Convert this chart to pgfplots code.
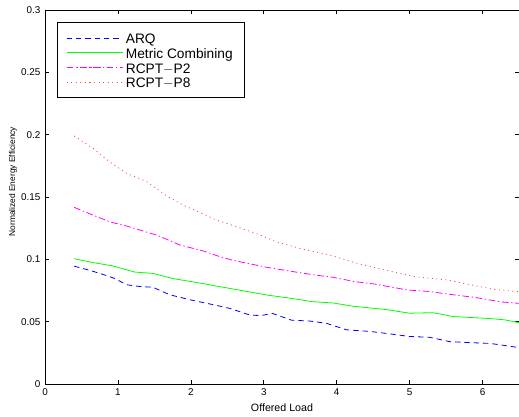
\documentclass[border=0pt]{standalone}
\usepackage{pgfplots}
\pgfplotsset{compat=1.18}
\usepackage{fontspec}
\setmainfont{Liberation Sans}
\definecolor{mlblue}{rgb}{0,0,1}
\definecolor{mlgreen}{rgb}{0,1,0}
\definecolor{mlpink}{rgb}{1,0,1}
\definecolor{mlred}{rgb}{1,0.3,0.3}
% legend sample: coloured line plus blank room before the text
\newcommand{\legline}[2]{\draw[#2, line width=0.6pt, draw=#1] (0pt,0pt) -- (28pt,0pt);
  \path (0pt,0pt) -- (42pt,0pt);}

\begin{document}
\begin{tikzpicture}
\begin{axis}[
  scale only axis,
  width=355.5pt, height=280.5pt,
  xmin=0, xmax=6.5, ymin=0, ymax=0.3,
  xtick={0,1,...,6},
  ytick={0,0.05,...,0.3},
  tick align=inside,
  major tick length=3.3pt,
  axis line style={line width=0.7pt},
  every tick/.style={black, line width=0.5pt},
  tick label style={font=\fontsize{7.4}{8}\selectfont},
  /pgf/number format/.cd, fixed, precision=2, assume math mode=true,
  /pgfplots/.cd,
  xlabel={Offered Load},
  ylabel={Normalized Energy Efficiency},
  xlabel style={font=\fontsize{8}{9}\selectfont,
    at={(axis description cs:0.5,-0.064)}, anchor=center},
  ylabel style={font=\fontsize{6.3}{7}\selectfont,
    at={(axis description cs:-0.0675,0.541)}, anchor=center},
  legend style={at={(axis description cs:0.0246,0.967)}, anchor=north west,
    draw=black, line width=0.6pt, font=\fontsize{10.3}{11}\selectfont,
    row sep=0pt, inner xsep=7pt, inner ysep=6pt,
    nodes={inner ysep=0pt, text height=9.7pt, text depth=1.3pt}},
  legend cell align=left,
]
\addplot[color=mlblue, line width=0.6pt, dash pattern=on 4pt off 3pt,
  legend image code/.code={\legline{mlblue}{dash pattern=on 4pt off 3pt}}] coordinates {
(0.4,0.0945)(0.6,0.0914)(0.8,0.0878)(0.95,0.0848)(1.12,0.0796)(1.3,0.0782)
(1.48,0.0776)(1.71,0.0716)(2.0,0.0674)(2.26,0.0642)(2.53,0.0607)(2.8,0.0555)
(2.95,0.0548)(3.12,0.0566)(3.38,0.0512)(3.63,0.0505)(3.86,0.0487)(4.13,0.0435)
(4.45,0.0422)(4.68,0.0406)(5.0,0.0381)(5.27,0.0375)(5.55,0.0340)(5.82,0.0332)
(6.1,0.0326)(6.5,0.0292)};
\addlegendentry{ARQ}
\addplot[color=mlgreen, line width=0.6pt,
  legend image code/.code={\legline{mlgreen}{solid}}] coordinates {
(0.4,0.1005)(0.65,0.0975)(0.93,0.0947)(1.23,0.0898)(1.48,0.0887)(1.76,0.0845)
(2.1,0.0812)(2.58,0.0762)(3.04,0.0714)(3.4,0.0685)(3.67,0.0660)(3.95,0.0650)
(4.22,0.0624)(4.68,0.0597)(5.0,0.0568)(5.32,0.0572)(5.6,0.0541)(6.1,0.0525)
(6.3,0.0515)(6.5,0.0492)};
\addlegendentry{Metric Combining}
\addplot[color=mlpink, line width=0.6pt, dash pattern=on 5pt off 2pt on 1pt off 2pt,
  legend image code/.code={\legline{mlpink}{dash pattern=on 5pt off 2pt on 1.5pt off 2pt}}] coordinates {
(0.4,0.1417)(0.71,0.1342)(0.91,0.1297)(1.12,0.1267)(1.3,0.1235)(1.53,0.1195)
(1.85,0.1115)(2.17,0.1067)(2.4,0.1021)(2.58,0.0992)(3.04,0.0936)(3.49,0.0893)
(3.73,0.0872)(3.95,0.0856)(4.25,0.0821)(4.52,0.0802)(4.97,0.0754)(5.25,0.0743)
(5.62,0.0714)(5.89,0.0695)(6.26,0.0658)(6.5,0.0647)};
\addlegendentry{RCPT$-$P2}
\addplot[color=mlred, line width=0.6pt, dash pattern=on 0.8pt off 2.6pt,
  legend image code/.code={\legline{mlred}{dash pattern=on 0.8pt off 2.6pt}}] coordinates {
(0.4,0.199)(0.66,0.189)(0.89,0.178)(1.12,0.169)(1.39,0.1625)(1.67,0.1508)
(1.89,0.1436)(2.12,0.1377)(2.35,0.1315)(2.63,0.1262)(2.95,0.1195)(3.17,0.1141)
(3.49,0.1088)(3.9,0.1035)(4.25,0.0973)(4.66,0.0914)(5.07,0.0861)(5.52,0.0834)
(5.85,0.0794)(6.16,0.0759)(6.5,0.074)};
\addlegendentry{RCPT$-$P8}
\end{axis}
\pgfresetboundingbox
\path ([xshift=-33.75pt,yshift=-24pt]current axis.south west)
  rectangle ([yshift=7.5pt]current axis.north east);
\end{tikzpicture}
\end{document}
